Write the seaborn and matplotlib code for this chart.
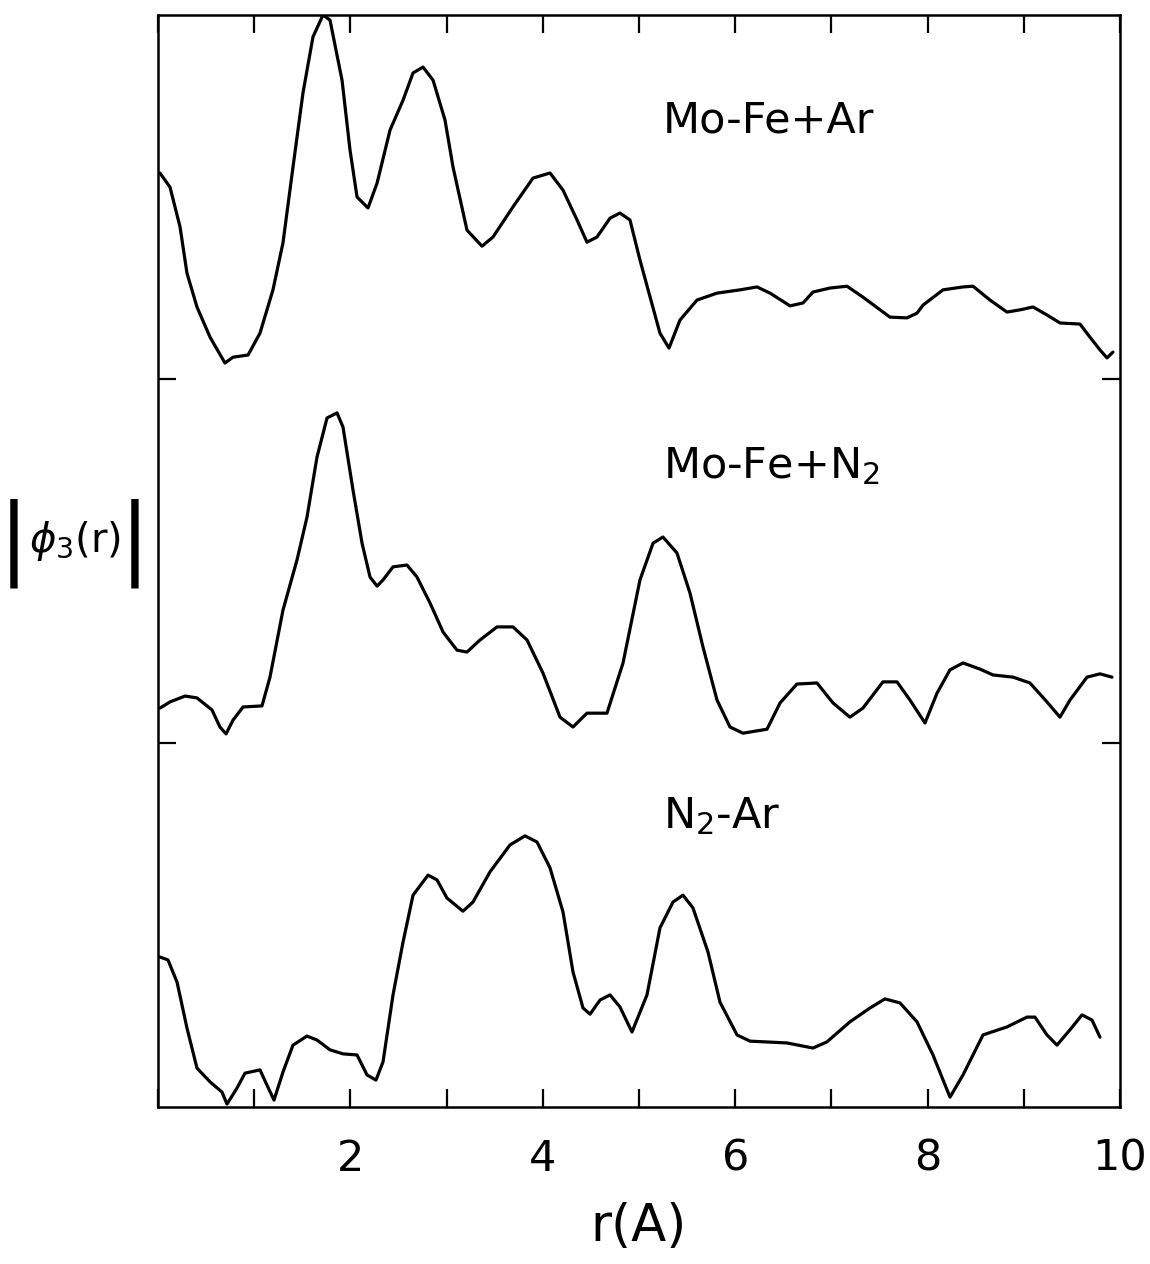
import numpy as np
import pandas as pd
import seaborn as sns
import matplotlib.pyplot as plt
from matplotlib.ticker import MultipleLocator, NullFormatter

# curves, phi given relative to each panel's baseline (panel height = 1)
r_ar = [0.02, 0.125, 0.229, 0.301, 0.405, 0.541, 0.696, 0.780, 0.936, 1.060,
        1.195, 1.299, 1.403, 1.507, 1.611, 1.715, 1.788, 1.913, 1.996, 2.069,
        2.183, 2.277, 2.412, 2.547, 2.651, 2.755, 2.859, 2.983, 3.067, 3.212,
        3.368, 3.482, 3.690, 3.898, 4.075, 4.210, 4.356, 4.459, 4.563, 4.699,
        4.802, 4.906, 5.010, 5.218, 5.312, 5.426, 5.603, 5.811, 6.050, 6.227,
        6.362, 6.570, 6.705, 6.809, 6.985, 7.162, 7.328, 7.609, 7.786, 7.890,
        7.952, 8.160, 8.368, 8.472, 8.649, 8.825, 8.960, 9.096, 9.241, 9.376,
        9.584, 9.688, 9.792, 9.865, 9.927]
phi_ar = [0.566, 0.527, 0.418, 0.291, 0.198, 0.115, 0.044, 0.060, 0.066, 0.126,
          0.245, 0.374, 0.582, 0.786, 0.940, 1.000, 0.986, 0.821, 0.629, 0.500,
          0.470, 0.538, 0.684, 0.766, 0.841, 0.857, 0.821, 0.712, 0.582, 0.409,
          0.365, 0.390, 0.473, 0.552, 0.566, 0.519, 0.437, 0.376, 0.390, 0.442,
          0.456, 0.437, 0.327, 0.126, 0.085, 0.162, 0.217, 0.236, 0.245, 0.253,
          0.236, 0.201, 0.209, 0.239, 0.250, 0.255, 0.225, 0.170, 0.168, 0.181,
          0.203, 0.245, 0.253, 0.255, 0.217, 0.184, 0.190, 0.198, 0.176, 0.154,
          0.151, 0.115, 0.080, 0.058, 0.074]

r_n2 = [0.021, 0.125, 0.281, 0.405, 0.561, 0.644, 0.707, 0.780, 0.884, 1.081,
        1.164, 1.299, 1.445, 1.549, 1.653, 1.757, 1.861, 1.923, 2.027, 2.121,
        2.204, 2.277, 2.339, 2.443, 2.588, 2.692, 2.827, 2.963, 3.108, 3.212,
        3.347, 3.524, 3.690, 3.836, 4.002, 4.179, 4.314, 4.459, 4.667, 4.834,
        5.010, 5.146, 5.249, 5.395, 5.530, 5.665, 5.811, 5.946, 6.081, 6.331,
        6.466, 6.642, 6.850, 7.017, 7.193, 7.328, 7.536, 7.682, 7.817, 7.973,
        8.098, 8.233, 8.368, 8.545, 8.680, 8.888, 9.064, 9.241, 9.376, 9.480,
        9.657, 9.792, 9.917]
phi_n2 = [0.096, 0.113, 0.129, 0.124, 0.091, 0.044, 0.025, 0.063, 0.099, 0.102,
          0.181, 0.365, 0.503, 0.621, 0.786, 0.893, 0.907, 0.868, 0.695, 0.549,
          0.456, 0.431, 0.448, 0.484, 0.489, 0.456, 0.385, 0.305, 0.255, 0.250,
          0.283, 0.319, 0.319, 0.283, 0.192, 0.071, 0.044, 0.082, 0.082, 0.220,
          0.448, 0.549, 0.566, 0.522, 0.412, 0.264, 0.118, 0.044, 0.027, 0.038,
          0.110, 0.162, 0.165, 0.110, 0.071, 0.096, 0.168, 0.168, 0.118, 0.055,
          0.137, 0.201, 0.220, 0.203, 0.187, 0.181, 0.165, 0.113, 0.071, 0.118,
          0.181, 0.190, 0.181]

r_diff = [0.021, 0.104, 0.198, 0.301, 0.405, 0.541, 0.665, 0.717, 0.821, 0.904,
          1.060, 1.133, 1.206, 1.299, 1.403, 1.549, 1.653, 1.788, 1.923, 2.069,
          2.173, 2.266, 2.339, 2.443, 2.547, 2.651, 2.807, 2.900, 3.004, 3.170,
          3.274, 3.451, 3.659, 3.815, 3.940, 4.075, 4.210, 4.314, 4.418, 4.491,
          4.595, 4.699, 4.802, 4.927, 5.083, 5.218, 5.353, 5.457, 5.561, 5.717,
          5.842, 6.019, 6.154, 6.538, 6.809, 6.954, 7.193, 7.401, 7.557, 7.713,
          7.890, 8.056, 8.233, 8.368, 8.576, 8.825, 9.033, 9.116, 9.241, 9.345,
          9.480, 9.605, 9.709, 9.792]
phi_diff = [0.412, 0.404, 0.343, 0.217, 0.107, 0.069, 0.041, 0.008, 0.052, 0.093,
            0.102, 0.060, 0.019, 0.096, 0.170, 0.195, 0.184, 0.157, 0.146, 0.143,
            0.088, 0.074, 0.124, 0.308, 0.453, 0.582, 0.637, 0.624, 0.574, 0.538,
            0.563, 0.646, 0.720, 0.745, 0.728, 0.657, 0.536, 0.371, 0.272, 0.255,
            0.294, 0.308, 0.275, 0.206, 0.308, 0.492, 0.563, 0.582, 0.547, 0.426,
            0.288, 0.198, 0.181, 0.176, 0.162, 0.179, 0.234, 0.272, 0.297, 0.286,
            0.234, 0.143, 0.027, 0.088, 0.198, 0.220, 0.247, 0.247, 0.198, 0.170,
            0.212, 0.253, 0.239, 0.192]

labels = ["Mo-Fe+Ar", r"Mo-Fe+N$_2$", r"N$_2$-Ar"]
offsets = [2, 1, 0]

frames = []
for lab, r, phi, off in zip(labels, [r_ar, r_n2, r_diff], [phi_ar, phi_n2, phi_diff], offsets):
    frames.append(pd.DataFrame({"r": r, "phi": np.array(phi) + off, "curve": lab}))
df = pd.concat(frames, ignore_index=True)

sns.set_style("ticks")
plt.rcParams["font.family"] = ["DejaVu Sans"]
plt.rcParams["mathtext.fontset"] = "dejavusans"
plt.rcParams["text.color"] = "black"
plt.rcParams["axes.labelcolor"] = "black"
plt.rcParams["xtick.color"] = "black"
plt.rcParams["ytick.color"] = "black"

fig = plt.figure(figsize=(11.5, 12.64), dpi=100)
ax = fig.add_axes([0.1374, 0.1242, 0.9739 - 0.1374, 0.9881 - 0.1242])

for lab in labels:
    sub = df[df.curve == lab]
    sns.lineplot(data=sub, x="r", y="phi", ax=ax, color="black", lw=2.3,
                 sort=False, estimator=None, legend=False)

ax.set_xlim(0, 10)
ax.set_ylim(0, 3)

ax.xaxis.set_major_locator(MultipleLocator(2))
ax.xaxis.set_minor_locator(MultipleLocator(1))
ax.set_xticks([2, 4, 6, 8, 10])
ax.set_yticks([1, 2])
ax.yaxis.set_major_formatter(NullFormatter())
ax.tick_params(axis="both", which="both", direction="in", top=True, right=True,
               length=13, width=1.6, color="black")
ax.tick_params(axis="x", labelsize=31, pad=22, labelcolor="black")
for s in ax.spines.values():
    s.set_linewidth(1.8)
    s.set_color("black")

ax.set_xlabel("r(A)", fontsize=37, labelpad=16, color="black")
ax.set_ylabel("")

# panel labels
text_pos = [(5.25, 2.676), (5.25, 1.728), (5.25, 0.766)]
for lab, (tx, ty) in zip(labels, text_pos):
    ax.text(tx, ty, lab, fontsize=31, va="baseline", ha="left", color="black")

# |phi_3(r)| with tall bars
fig.text(0.065, 0.572, r"$\phi_3$(r)", fontsize=29, ha="center", va="center", color="black")
for bx in (0.012, 0.117):
    fig.text(bx, 0.570, "|", fontsize=64, ha="center", va="center", color="black")

fig.savefig("out.png", dpi=100, facecolor="white")
